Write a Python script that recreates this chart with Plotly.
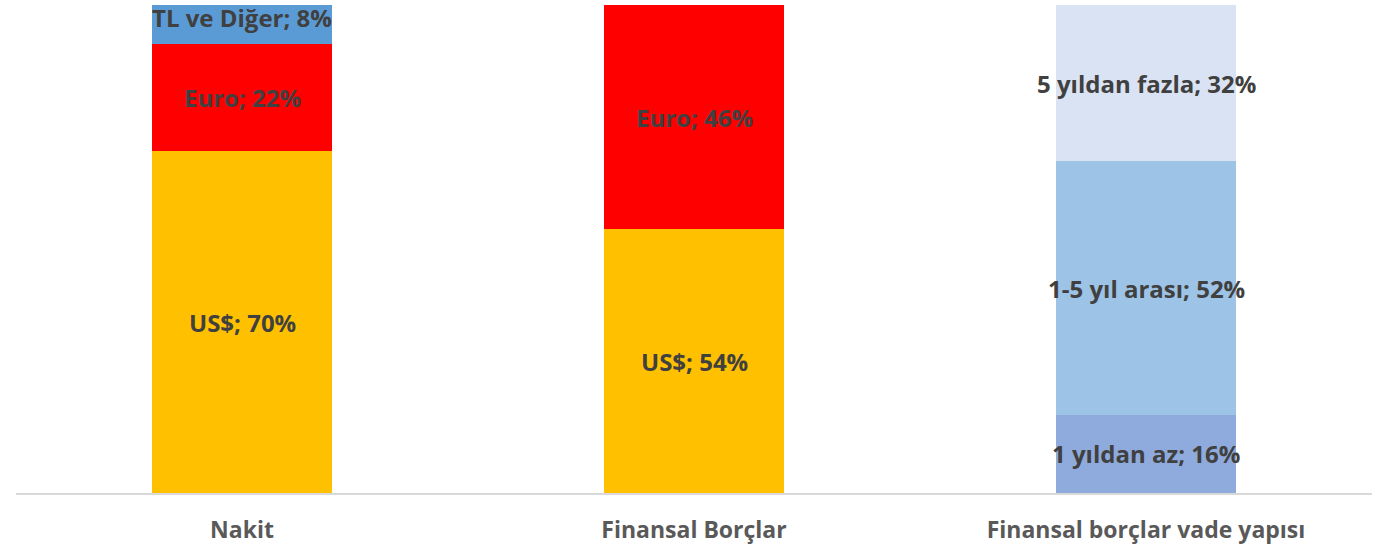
import plotly.graph_objects as go

categories = ["Nakit", "Finansal Borçlar", "Finansal borçlar vade yapısı"]

series_names = ["US$", "Euro", "TL ve Diğer", "1 yıldan az", "1-5 yıl arası", "5 yıldan fazla"]
us_vals = [70, 54, None]
euro_vals = [22, 46, None]
tl_vals = [8, None, None]
lt1_vals = [None, None, 16]
y15_vals = [None, None, 52]
gt5_vals = [None, None, 32]
series_values = [us_vals, euro_vals, tl_vals, lt1_vals, y15_vals, gt5_vals]
series_colors = ["#FFC000", "#FF0000", "#5B9BD5", "#8FAADC", "#9DC3E6", "#DAE3F3"]

FONT = "Open Sans"
LABEL_COLOR = "#404040"

fig = go.Figure()
for name, vals, col in zip(series_names, series_values, series_colors):
    fig.add_trace(go.Bar(
        x=categories, y=[v / 100 if v is not None else None for v in vals],
        name=name, marker=dict(color=col, line=dict(width=0)),
        hoverinfo="skip",
    ))

# data labels at segment midpoints
cum = [0.0, 0.0, 0.0]
for name, vals in zip(series_names, series_values):
    for i, v in enumerate(vals):
        if v is None:
            continue
        mid = cum[i] + v / 200
        cum[i] += v / 100
        fig.add_annotation(
            x=categories[i], y=mid, text=f"<b>{name}; {v}%</b>",
            showarrow=False, xref="x", yref="y",
            font=dict(family=FONT, size=24, color=LABEL_COLOR),
            yshift=7 if (name == "TL ve Diğer") else 0,
        )

fig.update_layout(
    barmode="stack",
    bargap=0.6,
    width=1398, height=545,
    margin=dict(l=16, r=26, t=5, b=52, autoexpand=False),
    paper_bgcolor="white", plot_bgcolor="white",
    showlegend=False,
    font=dict(family=FONT),
    xaxis=dict(
        showline=True, linecolor="#D9D9D9", linewidth=2,
        showgrid=False, zeroline=False, ticks="",
        tickfont=dict(family=FONT, size=23, color="#595959", weight="bold"),
        ticklabelstandoff=15, automargin=False,
    ),
    yaxis=dict(range=[0, 1], visible=False, showgrid=False, zeroline=False, automargin=False),
)

fig.write_html(
    "out.html",
    config={"displayModeBar": False},
    post_script="document.body.style.margin='0';document.body.style.overflow='hidden';",
)
